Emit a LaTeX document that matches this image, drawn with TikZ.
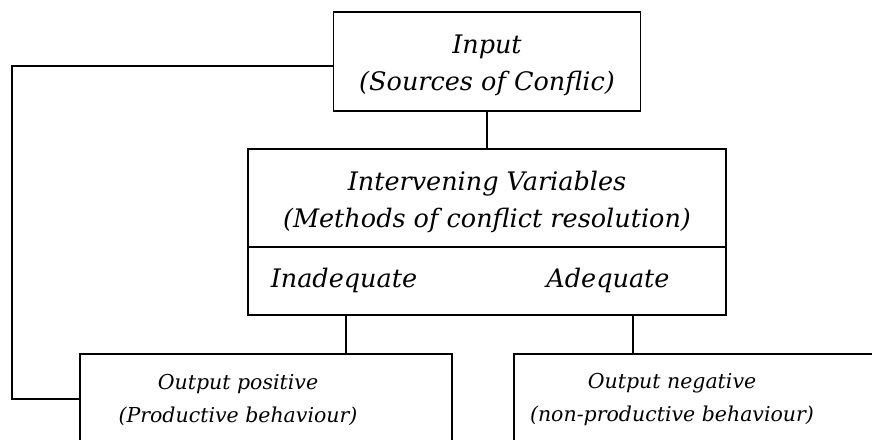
\documentclass[tikz,border=0pt]{standalone}
\usepackage{fontspec}
\setmainfont{DejaVu Serif}
\begin{document}
\begin{tikzpicture}[x=1pt,y=-1pt,
  box/.style={draw=black,line width=1.9pt,rectangle,inner sep=0pt},
  bigtxt/.style={align=center,font=\fontsize{25.5}{37}\selectfont\itshape},
  smalltxt/.style={align=center,font=\fontsize{20.5}{33}\selectfont\itshape},
  conn/.style={draw=black,line width=1.9pt}]
\useasboundingbox (0,0) rectangle (872,439);
\clip (0,0) rectangle (872,439);
% Input box
\node[box,minimum width=307pt,minimum height=99pt] (input) at (487,61.5) {};
\node[bigtxt] (intxt) at (487,65.5) {Input\\(Sources of Conflic)};
% Intervening variables
\node[box,minimum width=478pt,minimum height=98pt] (ivtop) at (487,198) {};
\node[bigtxt] (ivtxt) at (487,202) {Intervening Variables\\(Methods of conflict resolution)};
\node[box,minimum width=478pt,minimum height=68pt] (ivbot) at (487,281) {};
\node[bigtxt] (inadq) at (344,280) {Inadequate};
\node[bigtxt] (adq) at (608,280) {Adequate};
% Output boxes (cut off at bottom/right)
\node[box,minimum width=372pt,minimum height=120pt,anchor=north west] (left) at (79,353) {};
\node[box,minimum width=380pt,minimum height=120pt,anchor=north west] (right) at (513,353) {};
\node[smalltxt] (ltxt) at (238,400) {Output positive\\(Productive behaviour)};
\node[smalltxt] (rtxt) at (672,400) {Output negative\\(non-productive behaviour)};
% Connectors
\draw[conn] (input.south) -- (ivtop.north);
\draw[conn] ([xshift=2pt]inadq.south |- ivbot.south) -- ([xshift=2pt]inadq.south |- left.north);
\draw[conn] ([xshift=146pt]ivbot.south) -- ([xshift=146pt]ivbot.south |- right.north);
\coordinate (fb) at (12,399);
\draw[conn] ([yshift=-4.5pt]input.west) -| (fb) -- (fb -| left.west);
\end{tikzpicture}
\end{document}
